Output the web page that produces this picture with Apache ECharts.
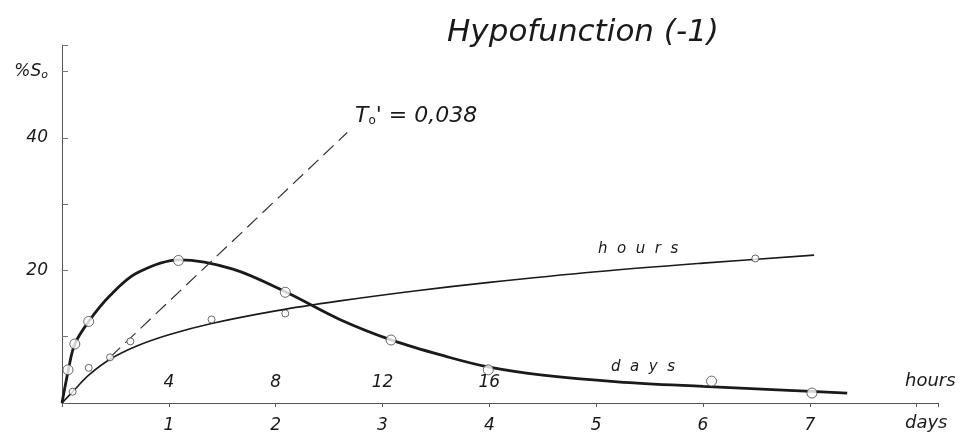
<!DOCTYPE html>
<html>
<head>
<meta charset="utf-8">
<script src="https://cdn.jsdelivr.net/npm/echarts@6/dist/echarts.min.js"></script>
<style>
html, body { margin: 0; padding: 0; background: #fff; }
#main { width: 968px; height: 436px; }
</style>
</head>
<body>
<div id="main"></div>
<script>
// x in days, y in % So  (thick "days" curve)
var daysCurveX = [0, 0.06, 0.12, 0.25, 0.45, 0.7, 1.1, 1.6, 2.1, 2.6, 3.1, 3.6, 4.0, 4.5, 5.2, 6.0, 6.8, 7.35];
var daysCurveY = [0, 5.0, 8.9, 12.3, 16.2, 19.6, 21.6, 20.2, 16.7, 12.6, 9.4, 7.0, 5.4, 4.2, 3.2, 2.5, 1.9, 1.5];
var daysPtsX = [0.056, 0.12, 0.25, 1.09, 2.09, 3.08, 3.99, 6.08, 7.02];
var daysPtsY = [5.0, 8.9, 12.3, 21.5, 16.7, 9.5, 5.0, 3.3, 1.5];

// x in hours (thin "hours" curve)
var hoursCurveX = [0, 0.4, 1.0, 1.8, 2.8, 4.0, 5.6, 8.0, 10.4, 13.2, 16, 20, 24, 28.16];
var hoursCurveY = [0, 1.7, 4.2, 6.6, 8.6, 10.3, 12.0, 13.9, 15.4, 16.9, 18.2, 19.8, 21.1, 22.3];
var hoursPtsX = [0.4, 1.0, 1.8, 2.56, 5.6, 8.36, 25.96];
var hoursPtsY = [1.7, 5.3, 6.9, 9.3, 12.6, 13.5, 21.8];

// tangent To'
var tangentX = [0.45, 2.67];
var tangentY = [6.9, 40.8];

var dayLabels = [1, 2, 3, 4, 5, 6, 7];
var hourLabels = [4, 8, 12, 16];
var yLabels = [20, 40];

function pairs(xs, ys) {
    return xs.map(function(x, i) { return [x, ys[i]]; });
}

var ink = '#1a1a1a';
var font = 'DejaVu Sans';

var chart = echarts.init(document.getElementById('main'));
var option = {
    backgroundColor: '#fff',
    animation: false,
    title: {
        text: 'Hypofunction (-1)',
        left: 578, top: 12, textAlign: 'center',
        textStyle: { color: ink, fontStyle: 'italic', fontWeight: 'normal', fontSize: 31, fontFamily: font }
    },
    grid: { left: 62, right: 30, top: 45, bottom: 33 },
    xAxis: [{
        type: 'value', min: 0, max: 8.2, interval: 1,
        axisLine: { lineStyle: { color: '#555', width: 1 } },
        axisTick: { show: true, length: 4, lineStyle: { color: '#555' } },
        splitLine: { show: false },
        axisLabel: {
            margin: 14, fontSize: 17, color: ink, fontStyle: 'italic', fontFamily: font,
            formatter: function(v) { return dayLabels.indexOf(v) >= 0 ? String(v) : ''; }
        }
    }, {
        type: 'value', min: 0, max: 32.8, interval: 4, position: 'bottom',
        axisLine: { show: false }, axisTick: { show: false }, splitLine: { show: false },
        axisLabel: {
            inside: true, margin: 12, fontSize: 17, color: ink, fontStyle: 'italic', fontFamily: font,
            formatter: function(v) { return hourLabels.indexOf(v) >= 0 ? String(v) : ''; }
        }
    }],
    yAxis: {
        type: 'value', min: 0, max: 54, interval: 10,
        axisLine: { show: true, lineStyle: { color: '#555', width: 1 } },
        axisTick: { show: true, inside: true, length: 6, lineStyle: { color: '#777' } },
        splitLine: { show: false },
        axisLabel: {
            margin: 14, fontSize: 17, color: ink, fontStyle: 'italic', fontFamily: font,
            formatter: function(v) {
                if (v === 50) return '{a|%S}{s|o}';
                return yLabels.indexOf(v) >= 0 ? String(v) : '';
            },
            rich: {
                a: { fontSize: 17, fontStyle: 'italic', color: ink, fontFamily: font },
                s: { fontSize: 11, color: ink, fontFamily: font, padding: [8, 0, 0, 0] }
            }
        }
    },
    graphic: [
        { type: 'text', left: 355, top: 105, style: {
            rich: {
                t: { fontSize: 22, fontStyle: 'italic', fill: ink, fontFamily: font },
                s: { fontSize: 12, fill: ink, fontFamily: font, padding: [10, 0, 0, 0] }
            },
            text: "{t|T}{s|o}{t|' = 0,038}"
        } },
        { type: 'text', left: 598, top: 242, style: { text: 'h  o  u  r  s', fill: ink, fontSize: 15, fontStyle: 'italic', fontFamily: font } },
        { type: 'text', left: 611, top: 360, style: { text: 'd  a  y  s', fill: ink, fontSize: 15, fontStyle: 'italic', fontFamily: font } },
        { type: 'text', left: 905, top: 372, style: { text: 'hours', fill: ink, fontSize: 18, fontStyle: 'italic', fontFamily: font } },
        { type: 'text', left: 905, top: 414, style: { text: 'days', fill: ink, fontSize: 18, fontStyle: 'italic', fontFamily: font } }
    ],
    series: [{
        name: 'days', type: 'line', xAxisIndex: 0, smooth: 0.35,
        showSymbol: false, data: pairs(daysCurveX, daysCurveY),
        lineStyle: { color: ink, width: 2.8 }
    }, {
        name: 'hours', type: 'line', xAxisIndex: 1, smooth: 0.35,
        showSymbol: false, data: pairs(hoursCurveX, hoursCurveY),
        lineStyle: { color: ink, width: 1.6 }
    }, {
        name: 'tangent', type: 'line', xAxisIndex: 0, showSymbol: false,
        data: pairs(tangentX, tangentY),
        lineStyle: { color: '#333', width: 1.2, type: [14, 7] }
    }, {
        name: 'days pts', type: 'scatter', xAxisIndex: 0, symbol: 'circle', symbolSize: 10,
        data: pairs(daysPtsX, daysPtsY),
        itemStyle: { color: '#fff', borderColor: '#444', borderWidth: 1 }, z: 5
    }, {
        name: 'hours pts', type: 'scatter', xAxisIndex: 1, symbol: 'circle', symbolSize: 7,
        data: pairs(hoursPtsX, hoursPtsY),
        itemStyle: { color: '#fff', borderColor: '#444', borderWidth: 1 }, z: 5
    }]
};
chart.setOption(option);
</script>
</body>
</html>
